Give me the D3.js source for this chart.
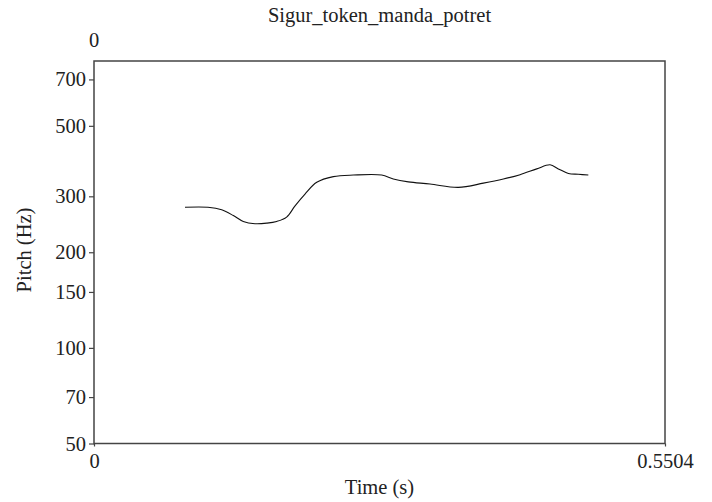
<!DOCTYPE html>
<html>
<head>
<meta charset="utf-8">
<script src="https://cdn.jsdelivr.net/npm/d3@7"></script>
<style>
  html, body { margin: 0; padding: 0; background: #fff; }
  svg { display: block; }
  text { font-family: "Liberation Serif", "Times New Roman", serif; fill: #222; }
</style>
</head>
<body>
<svg id="chart" width="712" height="502"></svg>
<script>
// Pitch contour (time in seconds, F0 in Hz)
const times = [0.0877, 0.1099, 0.1231, 0.1343, 0.1439, 0.1552, 0.1665, 0.1761, 0.1857, 0.1938,
               0.2034, 0.2147, 0.2307, 0.2500, 0.2773, 0.2885, 0.3030, 0.3239, 0.3512, 0.3753,
               0.3946, 0.4107, 0.4268, 0.4396, 0.4476, 0.4573, 0.4669, 0.4765];
const pitch = [277, 277, 272, 261, 250, 246, 247, 250, 258, 280,
               305, 332, 346, 350, 350, 340, 333, 328, 320, 330,
               340, 351, 366, 377, 366, 354, 352, 350];
const yTicks = [50, 70, 100, 150, 200, 300, 500, 700];
const xDomain = [0, 0.5504];
const yDomain = [50, 800];
const title = "Sigur_token_manda_potret";
const xTitle = "Time (s)";
const yTitle = "Pitch (Hz)";

const fontSize = 20.5;
const svg = d3.select("#chart");
const frame = { left: 94, right: 665, top: 61, bottom: 443.5 };

const x = d3.scaleLinear().domain(xDomain).range([frame.left, frame.right]);
const y = d3.scaleLog().domain(yDomain).range([frame.bottom, frame.top]);

// Contour
const line = d3.line()
  .x((d, i) => x(times[i]))
  .y(d => y(d))
  .curve(d3.curveCatmullRom.alpha(0.5));
svg.append("path")
  .datum(pitch)
  .attr("d", line)
  .attr("fill", "none")
  .attr("stroke", "#111")
  .attr("stroke-width", 1.1)
  .attr("stroke-linejoin", "round");

// Frame
svg.append("rect")
  .attr("x", frame.left).attr("y", frame.top)
  .attr("width", frame.right - frame.left).attr("height", frame.bottom - frame.top)
  .attr("fill", "none")
  .attr("stroke", "#444")
  .attr("stroke-width", 1.5);

// Y axis
const yAxis = d3.axisLeft(y).tickValues(yTicks).tickFormat(d3.format("d")).tickSize(5).tickPadding(3);
const gy = svg.append("g").attr("transform", `translate(${frame.left},0)`).call(yAxis);
gy.select(".domain").remove();
gy.selectAll(".tick line").attr("stroke", "#444").attr("stroke-width", 1.2);
gy.selectAll(".tick text").attr("font-size", fontSize).attr("fill", "#222")
  .style("font-family", "'Liberation Serif', 'Times New Roman', serif");

// X axis end labels
const xAxis = d3.axisBottom(x).tickValues(xDomain).tickFormat(d => d === 0 ? "0" : "0.5504").tickSize(3).tickPadding(4);
const gx = svg.append("g").attr("transform", `translate(0,${frame.bottom})`).call(xAxis);
gx.select(".domain").remove();
gx.selectAll(".tick line").attr("stroke", "#444").attr("stroke-width", 1.2);
gx.selectAll(".tick text").attr("font-size", fontSize).attr("fill", "#222")
  .attr("dy", null).attr("y", 24.5)
  .style("font-family", "'Liberation Serif', 'Times New Roman', serif");

// Start time above the frame
svg.append("text")
  .attr("x", x(0)).attr("y", 47)
  .attr("text-anchor", "middle")
  .attr("font-size", fontSize)
  .text("0");

// Titles
svg.append("text")
  .attr("x", (frame.left + frame.right) / 2).attr("y", 22)
  .attr("text-anchor", "middle")
  .attr("font-size", fontSize)
  .text(title);

svg.append("text")
  .attr("x", (frame.left + frame.right) / 2).attr("y", 494)
  .attr("text-anchor", "middle")
  .attr("font-size", fontSize)
  .text(xTitle);

svg.append("text")
  .attr("transform", `translate(31,250) rotate(-90)`)
  .attr("text-anchor", "middle")
  .attr("font-size", fontSize)
  .text(yTitle);
</script>
</body>
</html>
